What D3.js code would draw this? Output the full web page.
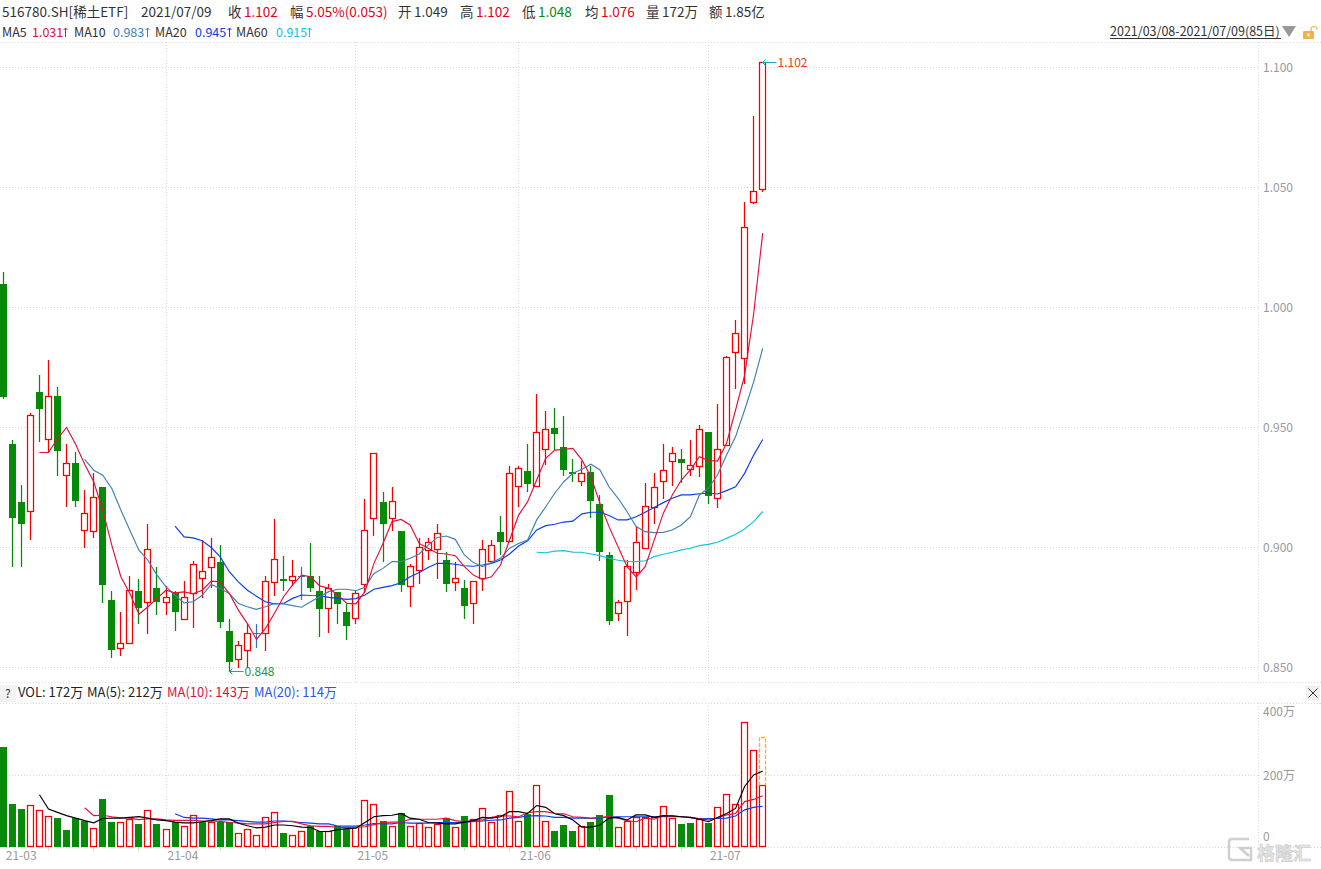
<!DOCTYPE html>
<html>
<meta charset="utf-8">
<head>
  <title>516780.SH K-line</title>
</head>

<style>
html, body { margin: 0; padding: 0; background: #fff; }
svg { display: block; }
text { font-family: "Noto Sans CJK SC", "Noto Sans", sans-serif; font-size: 12px; fill: #333; }
.grid { stroke: #d9d9d9; stroke-width: 1; stroke-dasharray: 1 2; fill: none; }
.axis text { fill: #999; font-size: 12px; }
</style>

<body>
<div id="chart"></div>
<script src="https://d3js.org/d3.v7.min.js"></script>
<script>

// daily candles (85 sessions, 2021/03/08 - 2021/07/09)
var open  = [1.010,0.943,0.919,0.915,0.965,0.945,0.963,0.930,0.935,0.907,0.907,0.925,0.878,0.858,0.860,0.882,0.877,0.883,0.877,0.881,0.870,0.881,0.887,0.892,0.894,0.865,0.853,0.857,0.864,0.8645,0.8855,0.887,0.8865,0.888,0.888,0.882,0.8745,0.8815,0.873,0.8705,0.8845,0.912,0.919,0.912,0.907,0.8835,0.8905,0.8985,0.8995,0.895,0.8855,0.883,0.877,0.887,0.8945,0.9065,0.9025,0.9255,0.932,0.9255,0.9405,0.950,0.942,0.9315,0.9275,0.9315,0.918,0.897,0.8725,0.8775,0.8895,0.8995,0.9165,0.9275,0.9355,0.937,0.9325,0.9335,0.948,0.9205,0.9425,0.981,0.979,1.044,1.049];
var close = [0.963,0.912,0.910,0.955,0.958,0.963,0.940,0.935,0.919,0.914,0.921,0.884,0.857,0.860,0.882,0.875,0.899,0.877,0.879,0.873,0.879,0.893,0.890,0.896,0.869,0.852,0.859,0.864,0.864,0.886,0.895,0.8865,0.888,0.888,0.883,0.8745,0.883,0.8765,0.867,0.881,0.907,0.939,0.910,0.919,0.8845,0.892,0.900,0.902,0.906,0.885,0.887,0.8755,0.886,0.899,0.901,0.9025,0.931,0.933,0.9265,0.948,0.949,0.9475,0.9325,0.9305,0.931,0.9195,0.898,0.8695,0.877,0.892,0.902,0.917,0.925,0.932,0.939,0.9355,0.934,0.949,0.9215,0.941,0.979,0.989,1.0335,1.0485,1.102];
var high  = [1.015,0.945,0.926,0.956,0.972,0.978,0.967,0.943,0.940,0.924,0.931,0.925,0.882,0.873,0.888,0.887,0.910,0.892,0.884,0.882,0.886,0.8945,0.903,0.904,0.901,0.870,0.861,0.868,0.868,0.888,0.912,0.8965,0.895,0.892,0.902,0.888,0.885,0.8815,0.8765,0.882,0.920,0.939,0.923,0.925,0.907,0.893,0.904,0.904,0.910,0.898,0.894,0.8865,0.886,0.903,0.903,0.913,0.934,0.934,0.943,0.964,0.957,0.958,0.955,0.937,0.936,0.934,0.922,0.898,0.878,0.895,0.909,0.927,0.931,0.943,0.942,0.941,0.945,0.951,0.948,0.960,0.980,0.995,1.044,1.080,1.102];
var low   = [0.962,0.892,0.892,0.903,0.944,0.940,0.930,0.917,0.917,0.900,0.904,0.877,0.854,0.855,0.860,0.868,0.864,0.872,0.872,0.865,0.870,0.8665,0.879,0.883,0.8665,0.848,0.850,0.850,0.858,0.857,0.880,0.882,0.884,0.878,0.8815,0.8625,0.8645,0.868,0.8615,0.868,0.8815,0.905,0.894,0.907,0.8815,0.875,0.885,0.895,0.887,0.8815,0.882,0.870,0.868,0.882,0.8935,0.897,0.9025,0.917,0.923,0.9255,0.9345,0.9405,0.930,0.9275,0.9255,0.9125,0.8945,0.8675,0.8695,0.863,0.8825,0.8995,0.910,0.920,0.9255,0.927,0.930,0.9295,0.918,0.9165,0.9425,0.966,0.968,1.043,1.048];
var dojiDays = [28, 33];

// price moving averages, first value sits on session maXStart
var ma5Start = 4;
var ma5 = [0.9396,0.9396,0.9454,0.950,0.943,0.9347,0.9274,0.9156,0.901,0.8878,0.8808,0.8722,0.8753,0.8788,0.8822,0.8811,0.8815,0.8807,0.8822,0.886,0.8857,0.8808,0.8739,0.8683,0.8617,0.8663,0.8726,0.8795,0.8844,0.8885,0.8878,0.884,0.883,0.8802,0.8767,0.8765,0.8816,0.8934,0.9017,0.9108,0.9117,0.9094,0.9017,0.8997,0.8976,0.8973,0.8966,0.892,0.8885,0.8867,0.8878,0.8927,0.9031,0.9135,0.9191,0.9281,0.9372,0.9406,0.9409,0.9413,0.9365,0.9295,0.9184,0.9087,0.9003,0.892,0.8878,0.892,0.9031,0.9142,0.9219,0.9281,0.9323,0.9378,0.9362,0.936,0.9434,0.9573,0.9717,0.9974,1.031];
var ma10Start = 9;
var ma10 = [0.9367,0.9322,0.9301,0.9246,0.9156,0.9072,0.8989,0.8947,0.8885,0.8836,0.8801,0.8769,0.8774,0.8801,0.8846,0.8829,0.8808,0.8767,0.8753,0.8742,0.8753,0.8767,0.8765,0.8758,0.8751,0.8774,0.8795,0.8816,0.8826,0.8826,0.882,0.8834,0.8892,0.8913,0.8941,0.8941,0.8955,0.8973,0.901,0.9042,0.9048,0.9034,0.8969,0.8937,0.892,0.8937,0.8955,0.8997,0.9017,0.9031,0.9115,0.917,0.9226,0.9274,0.9309,0.9326,0.9347,0.9323,0.9253,0.9205,0.9149,0.9087,0.9066,0.9062,0.9063,0.9073,0.9094,0.9128,0.9219,0.9247,0.9302,0.9385,0.9462,0.9573,0.9690,0.983];
var ma20Start = 19;
var ma20 = [0.9089,0.9044,0.904,0.9028,0.900,0.8961,0.8899,0.8857,0.8822,0.8797,0.8774,0.8765,0.8767,0.8788,0.8802,0.880,0.8799,0.8792,0.8788,0.8784,0.8787,0.8802,0.8826,0.8834,0.8841,0.8853,0.8878,0.8896,0.8917,0.8934,0.8934,0.893,0.8924,0.8922,0.8927,0.8934,0.8948,0.8973,0.9006,0.9028,0.9073,0.9091,0.9097,0.9106,0.911,0.914,0.9147,0.9147,0.9133,0.9115,0.9115,0.9128,0.9147,0.9167,0.9187,0.9205,0.9219,0.9219,0.9224,0.9227,0.9223,0.9237,0.9253,0.9309,0.9385,0.945];
var ma60Start = 59;
var ma60 = [0.898,0.8978,0.8985,0.8987,0.8981,0.898,0.8973,0.8966,0.8955,0.8947,0.8942,0.8941,0.8945,0.8962,0.8972,0.898,0.899,0.8997,0.9008,0.9013,0.9022,0.9038,0.9055,0.9077,0.9108,0.915];

// volume in 万
var volume = [280,121,107,118,104,87,82,49,82,74,54,135,71,70,79,66,104,66,51,69,59,90,69,71,71,71,40,51,34,84,98,41,34,45,58,44,45,58,51,56,131,120,74,59,94,58,67,56,65,81,56,87,78,108,69,90,156,72,93,172,72,45,62,45,58,70,90,145,56,74,83,83,83,114,81,65,68,78,68,111,147,119,347,269,172];
var volumeDown = [0,1,2,6,7,8,9,11,12,15,17,19,22,24,25,31,34,35,37,38,42,44,49,51,58,61,62,63,65,66,67,75,76,78];
var volumeProjected = 305;

var volMa5Start = 4;
var volMa5 = [146,106,97,88,81,74,68,80,81,81,83,85,81,76,74,70,68,68,71,74,79,79,67,60,54,56,62,62,60,56,55,44,44,49,52,53,69,85,88,89,94,81,78,69,67,65,65,70,74,83,81,85,99,99,94,116,111,93,88,76,56,56,62,81,83,76,90,90,83,88,87,85,83,78,71,83,94,108,169,201,212];
var volMa10Start = 9;
var volMa10 = [110,88,89,85,82,81,77,79,79,76,75,75,75,73,73,72,69,68,65,65,65,69,72,72,65,60,58,58,55,55,55,57,63,69,70,70,78,78,78,78,81,74,71,74,76,83,88,87,85,96,99,99,94,93,85,83,81,83,85,81,74,71,81,78,87,88,85,83,79,76,82,90,94,127,133,143];
var volMa20Start = 19;
var volMa20 = [93,83,81,81,79,76,76,74,72,70,70,73,73,71,69,67,65,65,59,59,59,62,66,65,65,69,67,67,67,69,69,69,70,71,73,75,76,81,83,87,88,87,83,83,81,81,80,81,85,85,85,85,85,85,85,85,85,82,80,80,80,81,87,104,111,114];

// axes
var priceTicks = [1.100, 1.050, 1.000, 0.950, 0.900, 0.850];
var volumeTicks = [400, 200, 0];
var monthTicks = [0, 18, 39, 57, 78];
var monthLabels = ['21-03', '21-04', '21-05', '21-06', '21-07'];
var weekTicks = [5, 10, 15, 24, 29, 34, 46, 51, 56, 66, 70, 75];

// header text: [text, x, colour]
var red = '#e3001b', green = '#078a07', ink = '#333';
var headerRow = [
  ['516780.SH[稀土ETF]', 2, ink], ['2021/07/09', 141, ink],
  ['收', 228, ink], ['1.102', 244, red],
  ['幅', 290, ink], ['5.05%(0.053)', 306, red],
  ['开', 398, ink], ['1.049', 414, ink],
  ['高', 460, ink], ['1.102', 476, red],
  ['低', 522, ink], ['1.048', 538, green],
  ['均', 585, ink], ['1.076', 601, red],
  ['量', 646, ink], ['172万', 662, ink],
  ['额', 709, ink], ['1.85亿', 725, ink]
];
var maColors = {ma5: '#e0103c', ma10: '#3f7fb5', ma20: '#0a3cf0', ma60: '#12c4dc'};
var maRow = [
  ['MA5', 2, ink], ['1.031', 32, maColors.ma5],
  ['MA10', 74, ink], ['0.983', 113, maColors.ma10],
  ['MA20', 155, ink], ['0.945', 195, maColors.ma20],
  ['MA60', 236, ink], ['0.915', 276, maColors.ma60]
];
var maArrows = [[65, maColors.ma5], [147, maColors.ma10], [229, maColors.ma20], [309, maColors.ma60]];
var volRow = [
  ['VOL: 172万', 18, '#222'], ['MA(5): 212万', 87, '#222'],
  ['MA(10): 143万', 167, maColors.ma5], ['MA(20): 114万', 254, '#2a55f0']
];

var W = 1321, H = 869, axisX = 1258;
var upRed = '#f40000', downGreen = '#078a07', strokeW = 1.25;

var svg = d3.select('#chart').append('svg').attr('width', W).attr('height', H);

var x = d3.scalePoint().domain(d3.range(85)).range([3.3, 762.7]);
var y = d3.scaleLinear().domain([0.85, 1.10]).range([667.5, 67.5]);
var yVol = d3.scaleLinear().domain([0, 400]).range([847.3, 703.3]);

// snap to the pixel grid so the strokes stay crisp
function px(v) { return Math.floor(v) + 0.5; }
function cx(i) { return px(x(i)); }

// ---------- grid ----------
var grid = svg.append('g');
function hline(yy, x2) {
  grid.append('line').attr('class', 'grid').attr('x1', 0).attr('x2', x2).attr('y1', px(yy)).attr('y2', px(yy));
}
function vline(xx, y1, y2) {
  grid.append('line').attr('class', 'grid').attr('x1', xx).attr('x2', xx).attr('y1', y1).attr('y2', y2);
}
priceTicks.forEach(function(t) { hline(y(t), axisX); });
hline(yVol(200), axisX);
[42, 682, 703, 847].forEach(function(yy) { hline(yy, W); });
monthTicks.slice(1).forEach(function(i) {
  vline(cx(i), 42, 682);
  vline(cx(i), 703, 847);
});
vline(axisX + 0.5, 42, 682);
vline(axisX + 0.5, 703, 847);
weekTicks.forEach(function(i) {
  grid.append('line').attr('stroke', '#ddd').attr('x1', cx(i)).attr('x2', cx(i)).attr('y1', 848).attr('y2', 851);
});

// ---------- candles ----------
var candles = d3.range(85).map(function(i) {
  return {i: i, o: open[i], c: close[i], h: high[i], l: low[i], doji: dojiDays.indexOf(i) >= 0};
});
function candleColor(d) {
  if (d.doji) return '#2f78b7';
  return d.c >= d.o ? upRed : downGreen;
}
var candle = svg.append('g').selectAll('g').data(candles).enter().append('g');
candle.append('line')
  .attr('x1', function(d) { return cx(d.i); })
  .attr('x2', function(d) { return cx(d.i); })
  .attr('y1', function(d) { return Math.round(y(d.h)); })
  .attr('y2', function(d) { return Math.round(y(d.l)); })
  .attr('stroke', candleColor)
  .attr('stroke-width', strokeW);
candle.filter(function(d) { return !d.doji && d.c >= d.o; }).append('rect')
  .attr('x', function(d) { return cx(d.i) - 3; })
  .attr('width', 6)
  .attr('y', function(d) { return px(y(d.c)); })
  .attr('height', function(d) { return Math.max(1, Math.round(y(d.o) - y(d.c))); })
  .attr('fill', '#fff')
  .attr('stroke', upRed)
  .attr('stroke-width', strokeW);
candle.filter(function(d) { return !d.doji && d.c < d.o; }).append('rect')
  .attr('x', function(d) { return cx(d.i) - 3.5; })
  .attr('width', 7)
  .attr('y', function(d) { return Math.round(y(d.o)); })
  .attr('height', function(d) { return Math.max(2, Math.round(y(d.c) - y(d.o))); })
  .attr('fill', downGreen);
candle.filter(function(d) { return d.doji; }).append('line')
  .attr('x1', function(d) { return cx(d.i) - 3.5; })
  .attr('x2', function(d) { return cx(d.i) + 3.5; })
  .attr('y1', function(d) { return px(y(d.c)); })
  .attr('y2', function(d) { return px(y(d.c)); })
  .attr('stroke', candleColor);

// ---------- price MA lines ----------
function points(values, start) {
  return values.map(function(v, k) { return {i: start + k, v: v}; });
}
var priceLine = d3.line().x(function(d) { return x(d.i); }).y(function(d) { return y(d.v); });
[[ma60, ma60Start, maColors.ma60], [ma20, ma20Start, maColors.ma20], [ma10, ma10Start, maColors.ma10], [ma5, ma5Start, maColors.ma5]]
  .forEach(function(s) {
    svg.append('path').datum(points(s[0], s[1]))
      .attr('d', priceLine).attr('fill', 'none').attr('stroke', s[2]).attr('stroke-width', 1.15);
  });

// high / low markers
function marker(i, v, label, color, nudge) {
  var x0 = cx(i), yy = px(y(v)) + nudge;
  svg.append('path')
    .attr('d', 'M' + x0 + ',' + yy + 'H' + (x0 + 14) + 'M' + (x0 + 3) + ',' + (yy - 3) + 'L' + x0 + ',' + yy + 'L' + (x0 + 3) + ',' + (yy + 3))
    .attr('fill', 'none').attr('stroke', '#2a9ac0');
  svg.append('text').attr('x', x0 + 15).attr('y', yy + 4.5).style('fill', color).text(label);
}
marker(84, 1.102, '1.102', '#e8400c', 0);
marker(25, 0.848, '0.848', '#2f8f3f', -1);

// ---------- volume ----------
var volBase = 846;
function isDown(i) { return volumeDown.indexOf(i) >= 0; }
svg.append('g').selectAll('rect').data(volume).enter().append('rect')
  .attr('x', function(d, i) { return cx(i) - (isDown(i) ? 3.5 : 3); })
  .attr('width', function(d, i) { return isDown(i) ? 7 : 6; })
  .attr('y', function(d, i) { return Math.round(yVol(d)) + (isDown(i) ? 0 : 0.5); })
  .attr('height', function(d, i) { return volBase - Math.round(yVol(d)) + (isDown(i) ? 1 : 0); })
  .attr('fill', function(d, i) { return isDown(i) ? downGreen : '#fff'; })
  .attr('stroke', function(d, i) { return isDown(i) ? 'none' : upRed; })
  .attr('stroke-width', strokeW);

// today's projected volume, dashed on top of the last bar
var lastI = volume.length - 1;
svg.append('path')
  .attr('d', 'M' + (cx(lastI) - 3) + ',' + px(yVol(volume[lastI])) + 'V' + px(yVol(volumeProjected)) + 'H' + (cx(lastI) + 3) + 'V' + px(yVol(volume[lastI])))
  .attr('fill', 'none').attr('stroke', '#fbb020').attr('stroke-width', 1.3).attr('stroke-dasharray', '4 1.5');

var volLine = d3.line().x(function(d) { return x(d.i); }).y(function(d) { return yVol(d.v); });
[[volMa20, volMa20Start, '#0a3cf0'], [volMa10, volMa10Start, '#e0103c'], [volMa5, volMa5Start, '#000']]
  .forEach(function(s) {
    svg.append('path').datum(points(s[0], s[1]))
      .attr('d', volLine).attr('fill', 'none').attr('stroke', s[2]).attr('stroke-width', 1.15);
  });

// ---------- axes ----------
function cleanAxis(g) {
  g.select('.domain').remove();
  g.selectAll('.tick line').remove();
}
svg.append('g').attr('class', 'axis').attr('transform', 'translate(' + axisX + ',0)')
  .call(d3.axisRight(y).tickValues(priceTicks).tickFormat(d3.format('.3f')).tickSize(0).tickPadding(5))
  .call(cleanAxis);

var volAxis = svg.append('g').attr('class', 'axis').attr('transform', 'translate(' + axisX + ',0)')
  .call(d3.axisRight(yVol).tickValues(volumeTicks).tickFormat(function(d) { return d ? d + '万' : '0'; }).tickSize(0).tickPadding(5))
  .call(cleanAxis);
volAxis.selectAll('.tick text').attr('dy', function(d) {
  return d === 400 ? '1.05em' : d === 0 ? '-0.55em' : '0.32em';
});

var monthAxis = svg.append('g').attr('class', 'axis').attr('transform', 'translate(0,847)')
  .call(d3.axisBottom(x).tickValues(monthTicks).tickFormat(function(d) { return monthLabels[monthTicks.indexOf(d)]; }).tickSize(0).tickPadding(0))
  .call(cleanAxis);
monthAxis.selectAll('.tick text').attr('text-anchor', 'start').attr('x', function(d) { return d === 0 ? 2 : 1; }).attr('y', 4);

// ---------- header text ----------
function textRow(row, yy, size) {
  svg.append('g').selectAll('text').data(row).enter().append('text')
    .attr('x', function(d) { return d[1]; })
    .attr('y', yy)
    .style('font-size', size + 'px')
    .style('fill', function(d) { return d[2]; })
    .text(function(d) { return d[0]; });
}
textRow(headerRow, 17, 13.5);
textRow(maRow, 37, 12.5);

// thin arrows after the MA values
svg.append('g').selectAll('path').data(maArrows).enter().append('path')
  .attr('d', function(d) { return 'M' + (d[0] + 0.5) + ',37V28M' + (d[0] - 1.5) + ',30L' + (d[0] + 0.5) + ',28L' + (d[0] + 2.5) + ',30'; })
  .attr('fill', 'none')
  .attr('stroke', function(d) { return d[1]; });

svg.append('text').attr('x', 1110).attr('y', 36).style('font-size', '12.5px').style('fill', '#333').text('2021/03/08-2021/07/09(85日)');
svg.append('line').attr('x1', 1110).attr('x2', 1281).attr('y1', 38.5).attr('y2', 38.5).attr('stroke', '#333');
svg.append('path').attr('d', 'M1282,26H1296L1289,37Z').attr('fill', '#999');
// open padlock
svg.append('rect').attr('x', 1303).attr('y', 31).attr('width', 11).attr('height', 8).attr('rx', 1).attr('fill', '#f0b244');
svg.append('rect').attr('x', 1307.5).attr('y', 33.5).attr('width', 2).attr('height', 3).attr('fill', '#fff');
svg.append('path').attr('d', 'M1311,31V29.5A3,3 0 0 1 1317,29.5').attr('fill', 'none').attr('stroke', '#f0b244').attr('stroke-width', 1.2);

// volume panel header
svg.append('rect').attr('x', 0).attr('y', 685).attr('width', 16).attr('height', 17).attr('fill', '#f2f2f2');
svg.append('text').attr('x', 5).attr('y', 698).style('fill', '#333').text('?');
textRow(volRow, 697, 13);
svg.append('rect').attr('x', 1306).attr('y', 686).attr('width', 14).attr('height', 14).attr('fill', '#f0f0f0');
svg.append('path').attr('d', 'M1308.5,688.5L1317.5,697.5M1317.5,688.5L1308.5,697.5').attr('stroke', '#333').attr('fill', 'none');

// ---------- watermark ----------
var mark = svg.append('g').attr('fill', 'none').attr('stroke', '#cfcfcf');
mark.append('path').attr('d', 'M1249,839H1232Q1229,839 1229,842V857Q1229,860 1232,860H1251V848H1240L1249,856').attr('stroke-width', 2.5);
svg.append('text').attr('x', 1257).attr('y', 860).style('font-size', '18px').style('font-weight', 'bold')
  .style('fill', '#e6e6e6').style('stroke', '#c4c4c4').style('stroke-width', 0.5).text('格隆汇');

</script>
</body>
</html>
